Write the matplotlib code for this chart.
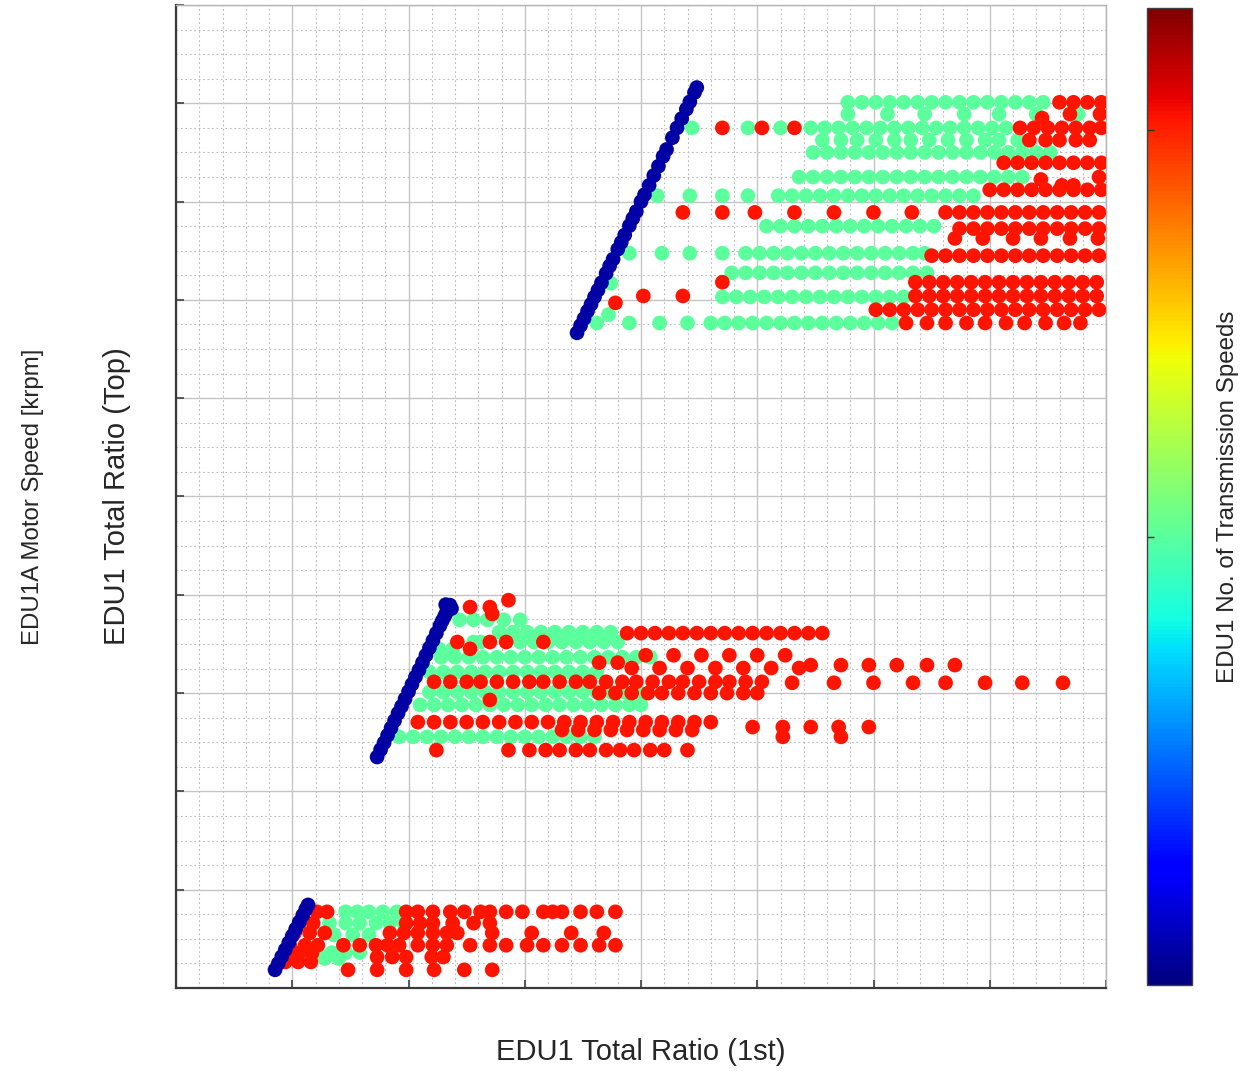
import numpy as np
import matplotlib
matplotlib.use("Agg")
import matplotlib.pyplot as plt
from matplotlib.ticker import MultipleLocator, NullFormatter
from matplotlib.colors import Normalize
from matplotlib.cm import ScalarMappable

plt.rcParams["font.family"] = ["Liberation Sans", "DejaVu Sans"]

# ---------------------------------------------------------------------------
# Configurations with a single transmission speed (1st ratio == top ratio line)
# ---------------------------------------------------------------------------
one_speed_x = [4.26, 4.40, 4.55, 4.70, 4.85, 5.00, 5.15, 5.30, 5.45, 5.58, 5.68,
               8.65, 8.80, 8.95, 9.10, 9.25, 9.40, 9.55, 9.70, 9.85, 10.00, 10.15,
               10.30, 10.45, 10.60, 10.75, 10.90, 11.05, 11.20, 11.35, 11.45, 11.55,
               11.60, 11.62, 11.70, 11.78, 11.85,
               17.25, 17.40, 17.55, 17.70, 17.85, 18.00, 18.15, 18.30, 18.50, 18.65,
               18.80, 19.00, 19.15, 19.30, 19.50, 19.65, 19.80, 20.00, 20.15, 20.35,
               20.55, 20.75, 20.95, 21.10, 21.35, 21.55, 21.75, 21.95, 22.10, 22.30,
               22.40]
one_speed_y = [0.37, 0.50, 0.64, 0.78, 0.92, 1.06, 1.20, 1.34, 1.48, 1.60, 1.69,
               4.70, 4.85, 4.99, 5.14, 5.29, 5.44, 5.59, 5.73, 5.88, 6.03, 6.18,
               6.33, 6.47, 6.62, 6.77, 6.92, 7.07, 7.22, 7.37, 7.47, 7.56,
               7.80, 7.63, 7.71, 7.79, 7.72,
               13.33, 13.48, 13.62, 13.77, 13.91, 14.06, 14.20, 14.35, 14.54, 14.69,
               14.83, 15.03, 15.17, 15.32, 15.51, 15.66, 15.80, 16.00, 16.14, 16.33,
               16.53, 16.72, 16.92, 17.06, 17.30, 17.50, 17.69, 17.88, 18.03, 18.22,
               18.32]

# ---------------------------------------------------------------------------
# Two-speed configurations, grouped by top-ratio level
# ---------------------------------------------------------------------------
two_speed_levels = [18.02, 17.78, 17.50, 17.25, 17.00, 16.50, 16.12, 15.50, 14.95,
                    14.55, 14.34, 14.06, 13.70, 13.53,
                    7.49, 7.24, 7.04, 6.90, 6.73, 6.43, 6.02, 5.76, 5.11,
                    1.55, 1.32, 1.08, 0.72, 0.60]
two_speed_first = [
    [28.9, 29.5, 30.1, 30.7, 31.3, 31.9, 32.5, 33.1, 33.7, 34.3, 34.9, 35.5, 36.1, 36.7, 37.3],
    [28.9, 30.6, 32.2, 33.9, 35.4, 37.0, 38.8],
    [22.2, 24.6, 26.0, 27.3, 27.9, 28.5, 29.1, 29.7, 30.3, 30.9, 31.5, 32.1, 32.7, 33.3, 33.9,
     34.5, 35.1, 35.7],
    [27.8, 28.6, 29.3, 30.1, 30.9, 31.6, 32.4, 33.2, 34.0, 34.8, 35.4, 36.2],
    [27.4, 28.0, 28.6, 29.2, 29.8, 30.4, 31.0, 31.6, 32.2, 32.8, 33.4, 34.0, 34.6, 35.2, 35.8,
     36.4, 37.0, 37.6],
    [26.8, 27.4, 28.0, 28.6, 29.2, 29.8, 30.4, 31.0, 31.6, 32.2, 32.8, 33.4, 34.0, 34.6, 35.2,
     35.8, 36.4],
    [20.7, 22.1, 23.5, 24.6, 25.9, 26.5, 27.1, 27.7, 28.3, 28.9, 29.5, 30.1, 30.7, 31.3, 31.9,
     32.5, 33.1, 33.7, 34.3],
    [25.4, 26.0, 26.6, 27.2, 27.8, 28.4, 29.0, 29.6, 30.2, 30.8, 31.4, 32.0, 32.6],
    [19.5, 20.9, 22.1, 23.5, 24.5, 25.1, 25.7, 26.3, 26.9, 27.5, 28.1, 28.7, 29.3, 29.9, 30.5,
     31.1, 31.7, 32.2],
    [23.9, 24.5, 25.1, 25.7, 26.3, 26.9, 27.5, 28.1, 28.7, 29.3, 29.9, 30.5, 31.1, 31.7, 32.3],
    [18.7],
    [23.5, 24.1, 24.7, 25.3, 25.9, 26.5, 27.1, 27.7, 28.3, 28.9, 29.5, 30.1, 30.7, 31.3],
    [18.6],
    [18.1, 19.5, 20.8, 22.0, 23.0, 23.6, 24.2, 24.8, 25.4, 26.0, 26.6, 27.2, 27.8, 28.4, 29.0,
     29.6, 30.2, 30.8],
    [12.2, 12.8, 13.4, 14.1, 14.8],
    [13.9, 14.5, 15.1, 15.7, 16.3, 16.9, 17.5, 18.1, 18.7],
    [12.8, 13.1, 14.8, 15.4, 16.0, 16.6, 17.2, 17.8, 18.4, 19.0],
    [11.3, 11.9],
    [11.4, 12.0, 12.6, 13.2, 13.8, 14.4, 15.0, 15.6, 16.2, 16.8, 17.4, 18.0, 18.6, 19.2, 19.8,
     20.4],
    [10.9, 11.5, 12.1, 12.7, 13.3, 13.9, 14.5, 15.1, 15.7, 16.3, 16.9, 17.5, 18.1],
    [10.9, 11.5, 12.1, 12.7, 13.3, 13.9, 14.5, 15.1, 15.7, 16.3, 16.9, 17.5, 18.1, 18.7, 19.3,
     19.9],
    [10.5, 11.1, 11.7, 12.3, 12.9, 13.5, 14.1, 14.7, 15.3, 15.9, 16.5, 17.1, 17.7, 18.3, 18.9,
     19.5, 20.0],
    [9.6, 10.2, 10.8, 11.4, 12.0, 12.6, 13.2, 13.8, 14.4, 15.0, 15.6, 16.2, 16.8, 17.4, 18.0],
    [7.3, 7.8, 8.3, 8.9, 9.5],
    [6.6, 7.3, 7.9, 8.6, 9.2, 9.8],
    [6.8, 7.6, 8.3],
    [6.1, 6.7, 7.3, 7.9],
    [6.4, 7.0],
]

# ---------------------------------------------------------------------------
# Three-speed configurations, grouped by top-ratio level
# ---------------------------------------------------------------------------
three_speed_levels = [18.02, 17.70, 17.78, 17.50, 17.25, 16.79, 16.45, 16.33, 16.50, 16.24,
                      15.78, 15.45, 15.25, 14.90, 14.36, 14.08, 13.94, 13.80, 13.53,
                      7.89, 7.75, 7.61, 7.22, 7.04, 6.90, 6.77, 6.62, 6.51, 6.57, 6.23,
                      6.21, 6.00, 5.86, 5.41, 5.25, 5.31, 5.11, 4.84,
                      1.55, 1.32, 1.12, 0.87, 0.71, 0.53, 0.63, 0.37]
three_speed_first = [
    [38.0, 38.6, 39.2, 39.8],
    [37.25],
    [38.45, 39.74],
    [23.5, 25.2, 26.6, 36.3, 36.9, 37.5, 38.1, 38.7, 39.3, 39.8],
    [36.7, 37.4, 38.0, 38.7, 39.3],
    [35.6, 36.2, 36.8, 37.4, 38.0, 38.6, 39.2, 39.8],
    [37.2],
    [38.1, 38.6],
    [39.7],
    [35.0, 35.6, 36.2, 36.8, 37.4, 38.0, 38.6, 39.2, 39.8],
    [21.8, 23.5, 24.9, 26.6, 28.3, 30.0, 31.65, 33.1, 33.7, 34.3, 34.9, 35.5, 36.1, 36.7, 37.3,
     37.9, 38.5, 39.1, 39.7],
    [33.7, 34.3, 34.9, 35.5, 36.1, 36.7, 37.3, 37.9, 38.5, 39.1, 39.7],
    [33.5, 34.7, 36.0, 37.2, 38.45, 39.65],
    [32.5, 33.1, 33.7, 34.3, 34.9, 35.5, 36.1, 36.7, 37.3, 37.9, 38.5, 39.1, 39.7],
    [23.5, 31.8, 32.4, 33.0, 33.6, 34.2, 34.8, 35.4, 36.0, 36.6, 37.2, 37.8, 38.4, 39.0, 39.6],
    [20.1, 21.8, 31.8, 32.4, 33.0, 33.6, 34.2, 34.8, 35.4, 36.0, 36.6, 37.2, 37.8, 38.4, 39.0,
     39.6],
    [18.9],
    [30.1, 30.7, 31.3, 31.9, 32.5, 33.1, 33.7, 34.3, 34.9, 35.5, 36.1, 36.7, 37.3, 37.9, 38.5,
     39.1, 39.7],
    [31.4, 32.3, 33.1, 34.0, 34.8, 35.7, 36.5, 37.4, 38.2, 38.9],
    [14.3],
    [12.65, 13.5],
    [13.6],
    [19.4, 20.0, 20.6, 21.2, 21.8, 22.4, 23.0, 23.6, 24.2, 24.8, 25.4, 26.0, 26.6, 27.2, 27.8],
    [12.1, 13.5, 14.2, 15.8],
    [12.65],
    [20.2, 21.4, 22.6, 23.8, 25.0, 26.2],
    [18.2, 19.0],
    [19.6, 20.8, 22.0, 23.2, 24.4, 25.6, 26.8],
    [27.3, 28.6, 29.8, 31.0, 32.3, 33.5],
    [11.1, 11.8, 12.5, 13.1, 13.8, 14.5, 15.2, 15.8, 16.5, 17.2, 17.8, 18.5, 19.2, 19.8, 20.5,
     21.2, 21.8, 22.5, 23.2, 23.8, 24.5, 25.2],
    [26.5, 28.3, 30.0, 31.7, 33.1, 34.8, 36.4, 38.15],
    [18.2, 18.9, 19.6, 20.3, 20.9, 21.6, 22.3, 23.0, 23.7, 24.4, 25.0],
    [13.5],
    [10.4, 11.1, 11.8, 12.5, 13.2, 13.9, 14.6, 15.3, 16.0, 16.7, 17.4, 18.1, 18.8, 19.5, 20.2,
     20.9, 21.6, 22.3, 23.0],
    [16.6, 17.3, 18.0, 18.7, 19.4, 20.1, 20.8, 21.5, 22.2],
    [24.8, 26.1, 27.3, 28.5, 29.8],
    [26.1, 28.6],
    [11.2, 14.3, 15.2, 15.9, 16.5, 17.2, 17.8, 18.5, 19.1, 19.7, 20.4, 21.0, 22.0],
    [6.06, 6.5, 9.9, 10.4, 11.05, 11.8, 12.4, 13.1, 13.5, 14.2, 14.9, 15.8, 16.2, 16.6, 17.4,
     18.1, 18.9],
    [5.3, 5.9, 9.9, 10.5, 11.05, 11.9, 12.8, 13.5],
    [5.1, 5.75, 6.4, 9.2, 9.8, 10.4, 11.05, 11.65, 12.1, 13.6, 15.3, 17.0, 18.4],
    [4.9, 5.55, 6.1, 7.2, 7.9, 8.6, 9.1, 9.6, 10.4, 11.05, 11.65, 12.65, 13.5, 14.2, 15.1, 15.8,
     16.6, 17.4, 18.2, 18.9],
    [4.8, 5.3, 5.85],
    [4.7, 5.25, 5.8],
    [8.65, 9.3, 9.9, 11.0, 11.5],
    [7.4, 8.65, 9.9, 11.1, 12.4, 13.6],
]

n_speeds = [1, 2, 3]


def flatten(levels, rows):
    xs = np.concatenate([np.asarray(r, float) for r in rows])
    ys = np.concatenate([np.full(len(r), lv) for lv, r in zip(levels, rows)])
    return xs, ys


x2, y2 = flatten(two_speed_levels, two_speed_first)
x3, y3 = flatten(three_speed_levels, three_speed_first)
x1, y1 = np.asarray(one_speed_x), np.asarray(one_speed_y)

# draw order: two-speed, three-speed, then single-speed on top
xs = np.concatenate([x2, x3, x1])
ys = np.concatenate([y2, y3, y1])
cs = np.concatenate([np.full(len(x2), n_speeds[1]),
                     np.full(len(x3), n_speeds[2]),
                     np.full(len(x1), n_speeds[0])])

fig = plt.figure(figsize=(12.6, 10.71), dpi=100)
ax = fig.add_axes([176 / 1260, 83 / 1071, 930 / 1260, 983 / 1071])
cax = fig.add_axes([1147 / 1260, 86 / 1071, 45 / 1260, 977 / 1071])

norm = Normalize(vmin=0.9, vmax=3.3)
ax.scatter(xs, ys, c=cs, cmap=plt.get_cmap("jet", 64), norm=norm, s=112,
           linewidths=0, zorder=3)

ax.set_xlim(0, 40)
ax.set_ylim(0, 20)
ax.xaxis.set_major_locator(MultipleLocator(5))
ax.xaxis.set_minor_locator(MultipleLocator(1))
ax.yaxis.set_major_locator(MultipleLocator(2))
ax.yaxis.set_minor_locator(MultipleLocator(0.5))
ax.xaxis.set_major_formatter(NullFormatter())
ax.yaxis.set_major_formatter(NullFormatter())
ax.grid(which="major", color="#c4c4c4", linewidth=1.0, linestyle="-", zorder=0)
ax.grid(which="minor", color="#b8b8b8", linewidth=0.8, linestyle=(0, (1.5, 2.5)), zorder=0)
ax.set_axisbelow(True)
ax.tick_params(which="major", direction="in", length=6, width=1.2, color="#404040")
ax.tick_params(which="minor", length=0)
for side in ("left", "bottom"):
    ax.spines[side].set_color("#3a3a3a")
    ax.spines[side].set_linewidth(1.6)
for side in ("top", "right"):
    ax.spines[side].set_color("#b4b4b4")
    ax.spines[side].set_linewidth(1.0)

ax.set_xlabel("EDU1 Total Ratio (1st)", fontsize=21, color="#262626")
ax.xaxis.label.set_va("center")
ax.xaxis.set_label_coords(0.5, -0.065)
ax.set_ylabel("EDU1 Total Ratio (Top)", fontsize=21, color="#262626")
ax.yaxis.label.set_va("center")
ax.yaxis.set_label_coords(-0.0634, 0.5)
ax.text(-0.1538, 0.5, "EDU1A Motor Speed [krpm]", transform=ax.transAxes,
        rotation=90, ha="center", va="center", fontsize=17.3, color="#262626")

# smooth colour scale for the bar
cb = fig.colorbar(ScalarMappable(norm=norm, cmap="jet"), cax=cax, ticks=[2, 3])
cb.ax.yaxis.set_major_formatter(NullFormatter())
cb.ax.yaxis.set_ticks_position("left")
cb.ax.tick_params(direction="in", length=5, width=1.0, color="#303030")
cb.outline.set_edgecolor("#404040")
cb.outline.set_linewidth(1.0)
cb.set_label("EDU1 No. of Transmission Speeds", fontsize=17.4, color="#262626")
cb.ax.yaxis.set_label_position("right")
cb.ax.yaxis.label.set_va("center")
cb.ax.yaxis.set_label_coords(1.8, 0.5)

fig.savefig("out.png", dpi=100, facecolor="white")
